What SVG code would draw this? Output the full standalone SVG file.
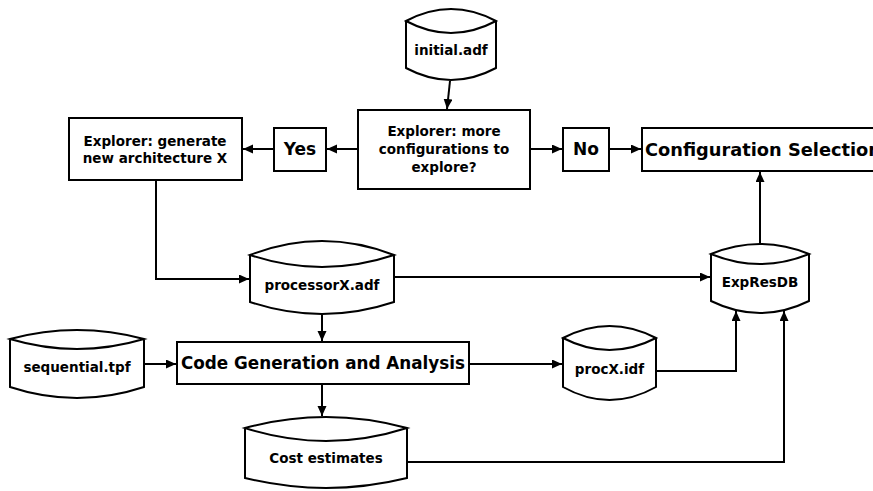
<svg xmlns="http://www.w3.org/2000/svg" width="873" height="491" viewBox="0 0 873 491">
<style>
.s{fill:#fff;stroke:#000;stroke-width:2}
.t{font-family:"DejaVu Sans",Verdana,sans-serif;font-weight:bold;fill:#000;text-anchor:middle;dominant-baseline:central}
.c{fill:none;stroke:#000;stroke-width:2;marker-end:url(#a)}
</style>
<defs>
<marker id="a" markerUnits="userSpaceOnUse" markerWidth="11" markerHeight="10" refX="10" refY="4.5" orient="auto">
<path d="M0,0 L10,4.5 L0,9 z" fill="#000"/>
</marker>
</defs>
<rect width="873" height="491" fill="#fff"/>
<g id="connectors">
<path class="c" d="M450,81 L447,109"/>
<path class="c" d="M358,149 H327"/>
<path class="c" d="M274,149 H243"/>
<path class="c" d="M530,149 H562"/>
<path class="c" d="M609,149 H641"/>
<path class="c" d="M156,180 V279 H249"/>
<path class="c" d="M394,277 H710"/>
<path class="c" d="M760,244 V172"/>
<path class="c" d="M322,314 V341"/>
<path class="c" d="M144,364 H176"/>
<path class="c" d="M469,364 H562"/>
<path class="c" d="M656,371 H736 V311"/>
<path class="c" d="M322,384 V416"/>
<path class="c" d="M407,462 H784 V311"/>
</g>
<g id="initial">
<path class="s" d="M406,21 Q451,-3 496,21 Q451,45 406,21 Z M406,21 L406,68 Q451,92 496,68 L496,21"/>
<text class="t" x="451" y="50" font-size="13.5">initial.adf</text>
</g>
<g id="decision">
<rect class="s" x="358" y="110" width="172" height="79"/>
<text class="t" x="444" y="131" font-size="13.5">Explorer: more</text>
<text class="t" x="444" y="149" font-size="13.5">configurations to</text>
<text class="t" x="444" y="167" font-size="13.5">explore?</text>
</g>
<g id="yes">
<rect class="s" x="274" y="128" width="52" height="43"/>
<text class="t" x="300" y="149" font-size="17">Yes</text>
</g>
<g id="no">
<rect class="s" x="563" y="128" width="46" height="43"/>
<text class="t" x="586" y="149" font-size="17">No</text>
</g>
<g id="config">
<rect class="s" x="642" y="128" width="260" height="43"/>
<text class="t" x="645" y="149" font-size="17.8" style="text-anchor:start">Configuration Selection</text>
</g>
<g id="explorer">
<rect class="s" x="69" y="118" width="173" height="62"/>
<text class="t" x="155" y="141" font-size="13.5">Explorer: generate</text>
<text class="t" x="155" y="158" font-size="13.5">new architecture X</text>
</g>
<g id="processorX">
<path class="s" d="M250,255 Q322,227 394,255 Q322,279 250,255 Z M250,255 L250,302 Q322,326 394,302 L394,255"/>
<text class="t" x="322" y="285" font-size="13.5">processorX.adf</text>
</g>
<g id="expresdb">
<path class="s" d="M711,254 Q760,234 809,254 Q760,274 711,254 Z M711,254 L711,301 Q760,325 809,301 L809,254"/>
<text class="t" x="760" y="282" font-size="13.5">ExpResDB</text>
</g>
<g id="sequential">
<path class="s" d="M10,339 Q77,321 144,339 Q77,359 10,339 Z M10,339 L10,387 Q77,409 144,387 L144,339"/>
<text class="t" x="77" y="367" font-size="13.5">sequential.tpf</text>
</g>
<g id="codegen">
<rect class="s" x="177" y="342" width="292" height="42"/>
<text class="t" x="323" y="363" font-size="16.8">Code Generation and Analysis</text>
</g>
<g id="procX">
<path class="s" d="M563,338 Q609.5,314 656,338 Q609.5,362 563,338 Z M563,338 L563,387 Q609.5,413 656,387 L656,338"/>
<text class="t" x="609.5" y="369" font-size="13.5">procX.idf</text>
</g>
<g id="cost">
<path class="s" d="M245,428 Q326,406 407,428 Q326,454 245,428 Z M245,428 L245,478 Q326,498 407,478 L407,428"/>
<text class="t" x="326" y="458" font-size="13.5">Cost estimates</text>
</g>
</svg>
